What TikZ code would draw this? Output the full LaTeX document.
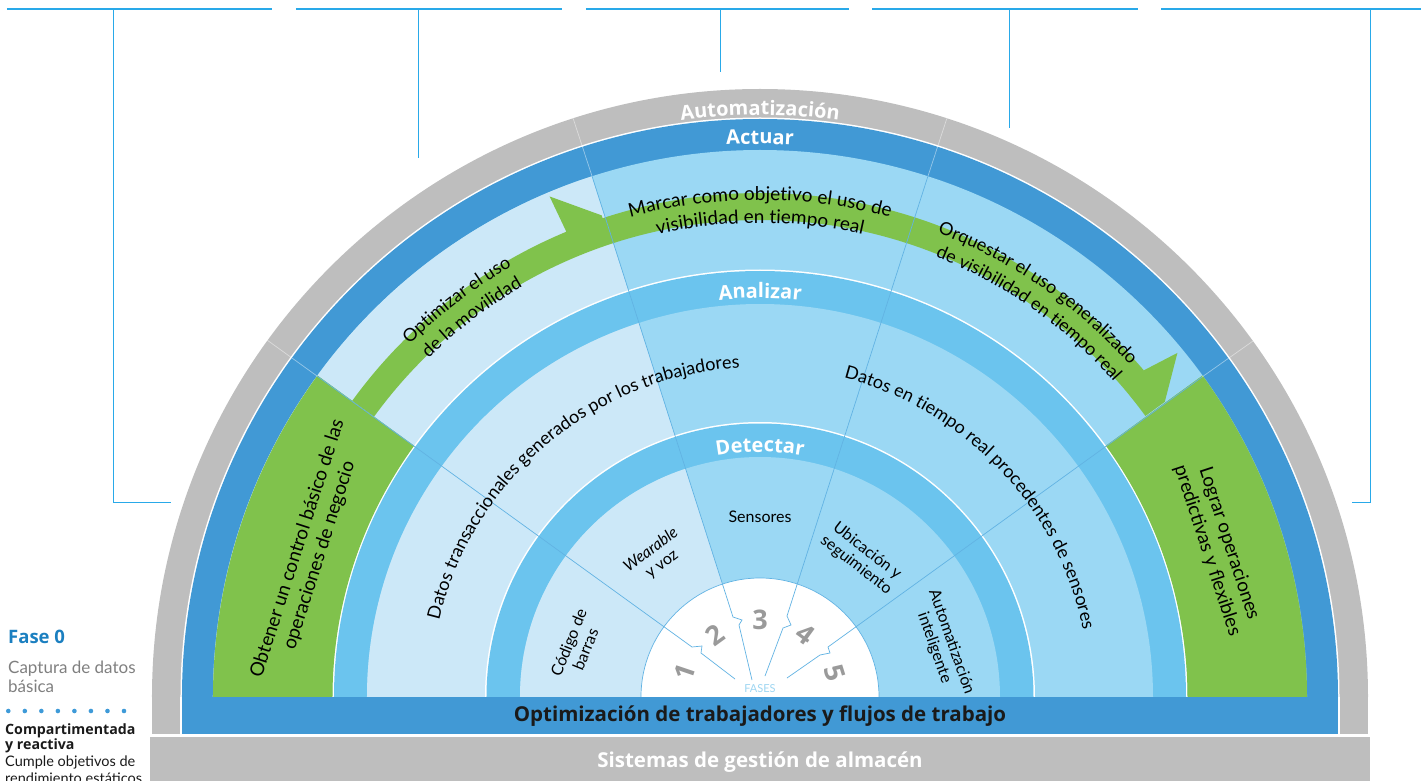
\documentclass[tikz,border=0pt]{standalone}
\usepackage{fontspec}
\setmainfont{Lato}
\newfontfamily\headfont{Open Sans}
\usetikzlibrary{decorations.text}

\definecolor{grayring}{HTML}{BEBEBE}
\definecolor{actblue}{HTML}{4199D5}
\definecolor{bandblue}{HTML}{6BC4EE}
\definecolor{palelight}{HTML}{CCE8F8}
\definecolor{palemid}{HTML}{9BD8F4}
\definecolor{phasegreen}{HTML}{80C24C}
\definecolor{divblue}{HTML}{62B3E3}
\definecolor{calloutblue}{HTML}{29A9E9}
\definecolor{numgray}{HTML}{9A9A9A}
\definecolor{fasesblue}{HTML}{9ED6F2}
\definecolor{faseblue}{HTML}{1B7FC0}
\definecolor{textgray}{HTML}{7F7F7F}
\definecolor{dotblue}{HTML}{3E9AD8}
\definecolor{barblack}{HTML}{1A1A1A}

\newcommand{\ringfont}{\headfont\fontsize{20}{24}\selectfont\bfseries}
\newcommand{\phasefont}{\fontsize{18}{22}\selectfont}
\newcommand{\aimfont}{\fontsize{19}{22}\selectfont}
\newcommand{\techfont}{\fontsize{16}{18}\selectfont}

\tikzset{
  ringlabel/.style={decorate, decoration={text along path, text align=center, text color=white, text={|\ringfont|#1}}},
  phaselabel/.style={decorate, decoration={text along path, text align=center, text={|\phasefont|#1}}},
  aimlabel/.style={decorate, decoration={text along path, text align=center, text={|\aimfont|#1}}},
  divider/.style={draw=divblue, line width=0.7pt},
  divlight/.style={draw=white, opacity=.45, line width=0.7pt},
  callout/.style={draw=calloutblue, line width=0.8pt},
  calloutbar/.style={draw=calloutblue, line width=1.8pt},
  tech/.style={font=\techfont, align=center, text=black},
  goal/.style={font=\fontsize{19}{23}\selectfont, align=center, text=black},
  phasenum/.style={font=\headfont\fontsize{27}{27}\selectfont\bfseries, text=numgray},
  bartext/.style={font=\headfont\fontsize{20.5}{24}\selectfont\bfseries},
  sidetext/.style={anchor=base west, inner sep=0pt},
}

\begin{document}
\begin{tikzpicture}[x=1pt, y=1pt]
\useasboundingbox (-760,-83) rectangle (661,697);

\fill[grayring] (608,0) arc[start angle=0, end angle=180, radius=608] -- cycle;
\fill[grayring] (-608,0) rectangle (608,-37);
\foreach \rb/\rp/\col in {578/547/actblue, 426/393/bandblue, 273.5/240/bandblue} {
  \fill[white] (\rb+1.5,0) arc[start angle=0, end angle=180, radius=\rb+1.5] -- cycle;
  \fill[\col] (\rb,0) arc[start angle=0, end angle=180, radius=\rb] -- cycle;
  \fill[palemid] (\rp,0) arc[start angle=0, end angle=180, radius=\rp] -- cycle;
  \begin{scope}
    \clip (-187,579) -- (-27,80) -- (-18,77) -- (-21,72) -- (-8,17) -- (-8,0)
      -- (-700,0) -- (-700,697) -- (-225,697) -- cycle;
    \fill[palelight] (\rp,0) arc[start angle=0, end angle=180, radius=\rp] -- cycle;
  \end{scope}
}

\fill[phasegreen] (-547,0) arc[start angle=180, end angle=144, radius=547]
  -- (144:427.5) arc[start angle=144, end angle=180, radius=427.5] -- cycle;
\fill[phasegreen] (547,0) arc[start angle=0, end angle=36, radius=547]
  -- (36:427.5) arc[start angle=36, end angle=0, radius=427.5] -- cycle;
\fill[phasegreen] (144:504) arc[start angle=144, end angle=112.6, radius=504]
  -- (112.8:543) -- (108.2:507) -- (108.2:504)
  arc[start angle=108.2, end angle=40.4, radius=504]
  -- (39.5:541) -- (36.1:501) -- (36.1:477)
  arc[start angle=36.1, end angle=144, radius=477] -- cycle;

\fill[white] (119,0) arc[start angle=0, end angle=180, radius=119] -- cycle;
\draw[divider] (119,0) arc[start angle=0, end angle=180, radius=119];

\draw[divlight] (-493,357) -- (-443,321);
\draw[divlight] (-187,579) -- (-168,521);
\draw[divlight] (187,579) -- (168,521);
\draw[divlight] (493,356) -- (442,320);
\draw[divider] (-443,321) -- (-68,50) -- (-58,51) -- (-59,44) -- (-25,18);
\draw[divider] (-168,521) -- (-27,80) -- (-18,77) -- (-21,72) -- (-8,17);
\draw[divider] (168,521) -- (27,81) -- (31,72) -- (23,69) -- (5,21);
\draw[divider] (442,320) -- (68,50) -- (70,44) -- (60,42) -- (27,19);

\path[ringlabel=Automatización] (120:582) arc[start angle=120, end angle=60, radius=582];
\path[ringlabel=Actuar] (110:553) arc[start angle=110, end angle=70, radius=553];
\path[ringlabel=Analizar] (115:399) arc[start angle=115, end angle=65, radius=399];
\path[ringlabel=Detectar] (125:245) arc[start angle=125, end angle=55, radius=245];

\path[aimlabel=Marcar como objetivo el uso de] (125:497) arc[start angle=125, end angle=55, radius=497];
\path[aimlabel=visibilidad en tiempo real] (125:474) arc[start angle=125, end angle=55, radius=474];
\path[phaselabel=Optimizar el uso] (152.4:497) arc[start angle=152.4, end angle=102.4, radius=497];
\path[phaselabel=de la movilidad] (152.2:474) arc[start angle=152.2, end angle=102.2, radius=474];
\path[phaselabel=Orquestar el uso generalizado] (85.5:497) arc[start angle=85.5, end angle=25.5, radius=497];
\path[phaselabel=de visibilidad en tiempo real] (85:474) arc[start angle=85, end angle=25, radius=474];
\path[phaselabel=Datos transaccionales generados por los trabajadores] (180:330) arc[start angle=180, end angle=80, radius=330];
\path[phaselabel=Datos en tiempo real procedentes de sensores] (93.5:330) arc[start angle=93.5, end angle=-6.5, radius=330];

\node[goal, rotate=72.2] (basic) at (162.2:474) {Obtener un control básico de las\\operaciones de negocio};
\node[goal, rotate=-71.9] (predictive) at (18.1:482) {Lograr operaciones\\predictivas y flexibles};

\node[tech, rotate=68] (barcode) at (164.4:190) {Código de\\barras};
\node[tech, rotate=37] (wearable) at (126.5:174) {\textit{Wearable}\\y voz};
\node[tech] (sensors) at (90:180) {Sensores};
\node[tech, rotate=-37.8] (tracking) at (53.8:172) {Ubicación y\\seguimiento};
\node[tech, rotate=-70.7] (automation) at (15.9:190) {Automatización\\inteligente};

\foreach \n/\a/\r in {1/161.4/79, 2/126/77, 3/90/77, 4/54/77, 5/17.5/79}
  \node[phasenum, rotate=\a-90] (num\n) at (\a:\r) {\n};
\node[font=\fontsize{11}{11}\selectfont, text=fasesblue] (fases) at (0,8) {FASES};

\fill[white] (-579.5,0) rectangle (579.5,-37);
\fill[actblue] (-578,0) rectangle (578,-37);
\node[bartext, text=barblack] (workflow) at (0,-19) {Optimización de trabajadores y flujos de trabajo};
\fill[grayring] (-610,-40) rectangle (610,-90);
\node[bartext, text=white] (wms) at (0,-65) {Sistemas de gestión de almacén};

\node[sidetext, font=\headfont\fontsize{18.5}{23}\selectfont\bfseries, text=faseblue] (fase) at (-752,54) {Fase 0};
\node[sidetext, font=\fontsize{17}{19}\selectfont, text=textgray] (capture1) at (-752,24) {Captura de datos};
\node[sidetext, font=\fontsize{17}{19}\selectfont, text=textgray] (capture2) at (-752,5) {básica};
\foreach \i in {0,...,7}
  \fill[dotblue] (-751.7+16.53*\i,-14) circle[radius=2.3];
\node[sidetext, font=\headfont\fontsize{14.2}{17}\selectfont\bfseries, text=barblack] (silo1) at (-755,-37) {Compartimentada};
\node[sidetext, font=\headfont\fontsize{14.2}{17}\selectfont\bfseries, text=barblack] (silo2) at (-755,-52) {y reactiva};
\node[sidetext, font=\fontsize{14.5}{17}\selectfont, text=barblack] (goal1) at (-755,-69.5) {Cumple objetivos de};
\node[sidetext, font=\fontsize{14.5}{17}\selectfont, text=barblack] (goal2) at (-755,-86) {rendimiento estáticos};

\foreach \a/\b in {-753/-488, -464/-198, -174/89, 112/378, 401/661}
  \draw[calloutbar] (\a,688) -- (\b,688);
\coordinate (lead1) at (-647,688);
\coordinate (foot1) at (-589,195);
\coordinate (lead2) at (-342,688);
\coordinate (foot2) at (-342,539);
\coordinate (lead3) at (-40,688);
\coordinate (foot3) at (-40,625);
\coordinate (lead4) at (249,688);
\coordinate (foot4) at (249,569);
\coordinate (lead5) at (610,688);
\coordinate (foot5) at (592,195);
\draw[callout] (lead1) |- (foot1);
\draw[callout] (lead2) -- (foot2);
\draw[callout] (lead3) -- (foot3);
\draw[callout] (lead4) -- (foot4);
\draw[callout] (lead5) |- (foot5);

\end{tikzpicture}
\end{document}
